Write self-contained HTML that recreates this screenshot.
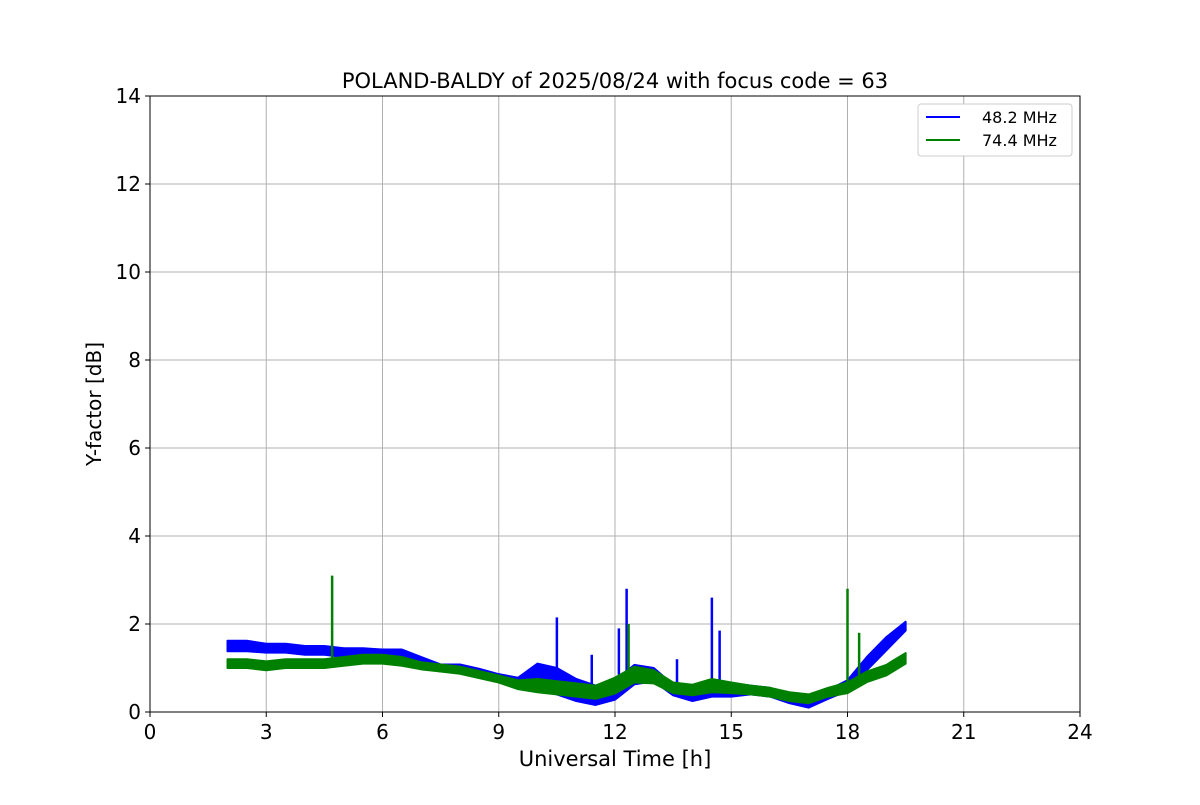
<!DOCTYPE html>
<html><head><meta charset="utf-8"><style>
body{margin:0;background:#fff}
svg text{font-family:"DejaVu Sans","Liberation Sans",sans-serif;fill:#000}
</style></head><body>
<svg id="c" width="1200" height="800"></svg>
<script>
const times=[2,2.5,3,3.5,4,4.5,5,5.5,6,6.5,7,7.5,8,8.5,9,9.5,10,10.5,11,11.5,12,12.5,13,13.5,14,14.5,15,15.5,16,16.5,17,17.5,18,18.5,19,19.5];
const blue=[1.5,1.5,1.45,1.45,1.4,1.4,1.35,1.35,1.3,1.3,1.15,1.0,1.0,0.9,0.78,0.68,0.8,0.7,0.5,0.38,0.5,0.85,0.85,0.5,0.35,0.5,0.5,0.5,0.45,0.3,0.2,0.4,0.6,1.1,1.55,1.95];
const blueW=[0.12,0.12,0.1,0.1,0.1,0.1,0.1,0.1,0.12,0.12,0.1,0.08,0.08,0.08,0.08,0.1,0.3,0.3,0.25,0.22,0.22,0.22,0.15,0.12,0.1,0.15,0.15,0.1,0.1,0.1,0.1,0.1,0.12,0.15,0.15,0.1];
const green=[1.1,1.1,1.05,1.1,1.1,1.1,1.15,1.2,1.2,1.15,1.05,1.0,0.95,0.85,0.75,0.62,0.6,0.55,0.5,0.45,0.6,0.85,0.8,0.55,0.5,0.6,0.55,0.5,0.45,0.35,0.3,0.45,0.55,0.8,0.95,1.22];
const greenW=[0.1,0.1,0.1,0.1,0.1,0.1,0.1,0.1,0.1,0.1,0.08,0.08,0.08,0.08,0.08,0.1,0.15,0.15,0.15,0.15,0.18,0.18,0.15,0.12,0.12,0.15,0.12,0.1,0.1,0.1,0.1,0.1,0.12,0.12,0.12,0.12];
const blueSpikeT=[10.5,11.4,12.1,12.3,13.6,14.5,14.7];
const blueSpikeV=[2.15,1.3,1.9,2.8,1.2,2.6,1.85];
const greenSpikeT=[4.7,12.35,18.0,18.3];
const greenSpikeV=[3.1,2.0,2.8,1.8];
const xTicks=[0,3,6,9,12,15,18,21,24];
const yTicks=[0,2,4,6,8,10,12,14];
const L=150,R=1080,T=96,B=712;
const X=t=>L+(t/24)*(R-L), Y=v=>B-(v/14)*(B-T);
const svg=document.getElementById('c'),NS='http://www.w3.org/2000/svg';
function mk(tag,a,p){const e=document.createElementNS(NS,tag);for(const k in a)e.setAttribute(k,a[k]);(p||svg).appendChild(e);return e;}
const grid=mk('g',{});


xTicks.forEach(t=>{
 const l=mk('line',{x1:X(t),x2:X(t),y1:T,y2:B,stroke:'#b0b0b0','stroke-width':1},grid);
 
 
 mk('line',{x1:X(t),x2:X(t),y1:B,y2:B+5,stroke:'#000'});
 const tx=mk('text',{x:X(t),y:B+27,'text-anchor':'middle','font-size':20});
 tx.textContent=t;
 
 
});
yTicks.forEach(v=>{
 const l=mk('line',{x1:L,x2:R,y1:Y(v),y2:Y(v),stroke:'#b0b0b0','stroke-width':1},grid);
 
 
 mk('line',{x1:L-5,x2:L,y1:Y(v),y2:Y(v),stroke:'#000'});
 const tx=mk('text',{x:L-9,y:Y(v)+7,'text-anchor':'end','font-size':20});
 tx.textContent=v;
 
 
});
function band(vals,w,spT,spV,col,name){
 const g=mk('g',{});
 
 
 let up=times.map((t,i)=>X(t)+','+Y(vals[i]+w[i]));
 let lo=times.map((t,i)=>X(t)+','+Y(vals[i]-w[i])).reverse();
 const p=mk('polygon',{points:up.concat(lo).join(' '),fill:col,stroke:col,'stroke-width':2,'stroke-linejoin':'round'},g);
 
 
 spT.forEach((t,i)=>{
  let k=times.findIndex(x=>x>=t);if(k<0)k=times.length-1;
  const s=mk('line',{x1:X(t),x2:X(t),y1:Y(vals[k]),y2:Y(spV[i]),stroke:col,'stroke-width':2.5},g);
  
  
 });
}
band(blue,blueW,blueSpikeT,blueSpikeV,'#0000ff','series-48mhz');
band(green,greenW,greenSpikeT,greenSpikeV,'#008000','series-74mhz');
const fr=mk('rect',{x:L,y:T,width:R-L,height:B-T,fill:'none',stroke:'#000','stroke-width':1});


const ti=mk('text',{x:615,y:88,'text-anchor':'middle','font-size':21});
ti.textContent='POLAND-BALDY of 2025/08/24 with focus code = 63';


const xl=mk('text',{x:615,y:766,'text-anchor':'middle','font-size':21});
xl.textContent='Universal Time [h]';


const yl=mk('text',{x:0,y:0,'text-anchor':'middle','font-size':20,transform:'translate(101,404) rotate(-90)'});
yl.textContent='Y-factor [dB]';


const lg=mk('g',{});


mk('rect',{x:918,y:104,width:154,height:52,rx:3,fill:'#fff',stroke:'#ccc'},lg);
[['#0000ff','48.2 MHz',117],['#008000','74.4 MHz',140]].forEach(([c,n,y])=>{
 const e=mk('g',{},lg);
 
 
 mk('line',{x1:926,x2:960,y1:y,y2:y,stroke:c,'stroke-width':2},e);
 const t=mk('text',{x:982,y:y+6,'font-size':16},e);t.textContent=n;
});
</script>
</body></html>
